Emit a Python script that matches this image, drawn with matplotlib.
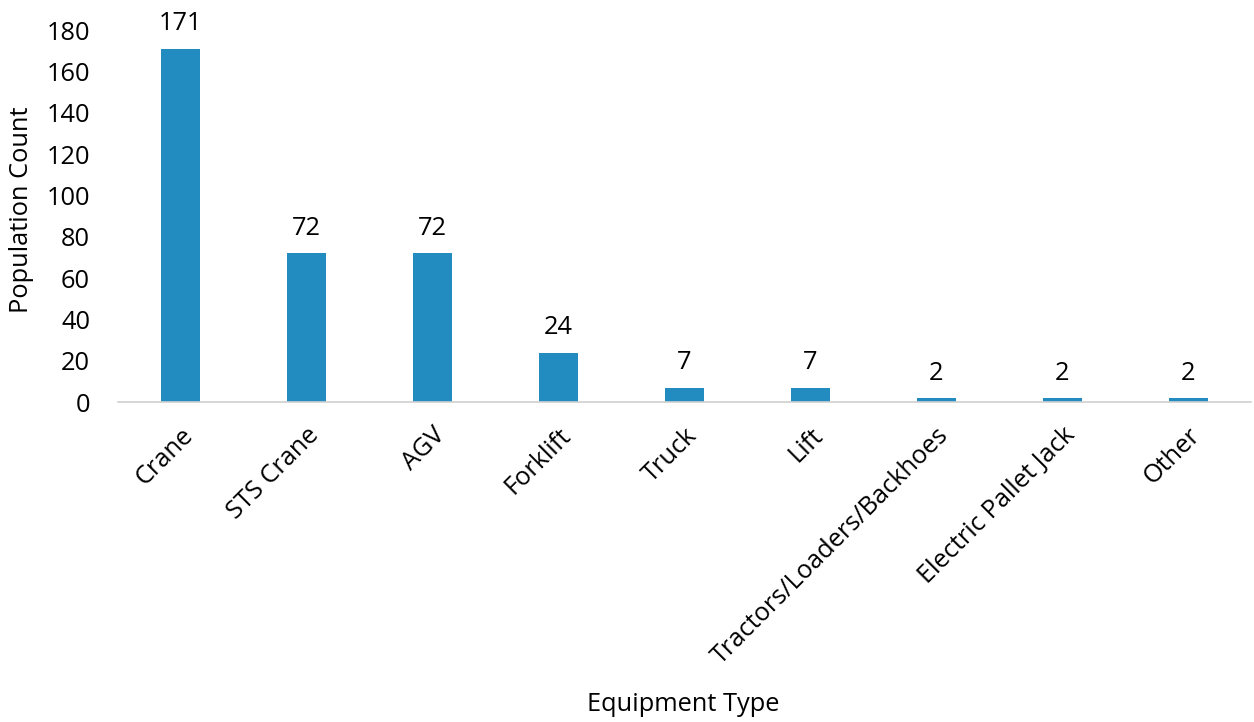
import matplotlib.pyplot as plt

# data
categories = ["Crane", "STS Crane", "AGV", "Forklift", "Truck", "Lift",
              "Tractors/Loaders/Backhoes", "Electric Pallet Jack", "Other"]
counts = [171, 72, 72, 24, 7, 7, 2, 2, 2]

plt.rcParams['font.family'] = ['Open Sans', 'DejaVu Sans']
fs = 18.3

fig = plt.figure(figsize=(12.54, 7.22), dpi=100)
ax = fig.add_axes([0.094, 0.443, 0.9036, 0.515])

bars = ax.bar(range(len(categories)), counts, width=0.31, color='#228CC1')
for b, v in zip(bars, counts):
    ax.annotate(str(v), (b.get_x() + b.get_width() / 2, v),
                xytext=(0, 9), textcoords='offset points',
                ha='center', va='bottom', fontsize=fs)

ax.set_xlim(-0.5, len(categories) - 0.5)
ax.set_ylim(0, 180)
ax.set_yticks(range(0, 181, 20))
ax.set_xticks(range(len(categories)))
ax.set_xticklabels(categories, rotation=45, ha='right', rotation_mode='anchor', fontsize=fs)
ax.tick_params(axis='y', labelsize=fs, length=0, pad=20)
ax.tick_params(axis='x', length=0, pad=15)

for s in ['top', 'right', 'left']:
    ax.spines[s].set_visible(False)
ax.spines['bottom'].set_color('#D0D0D0')
ax.spines['bottom'].set_linewidth(1.2)

fig.text(0.0175, 0.709, 'Population Count', rotation=90, ha='center', va='center', fontsize=fs)
fig.text(0.545, 0.024, 'Equipment Type', ha='center', va='center', fontsize=fs)

fig.savefig('out.png', dpi=100)
